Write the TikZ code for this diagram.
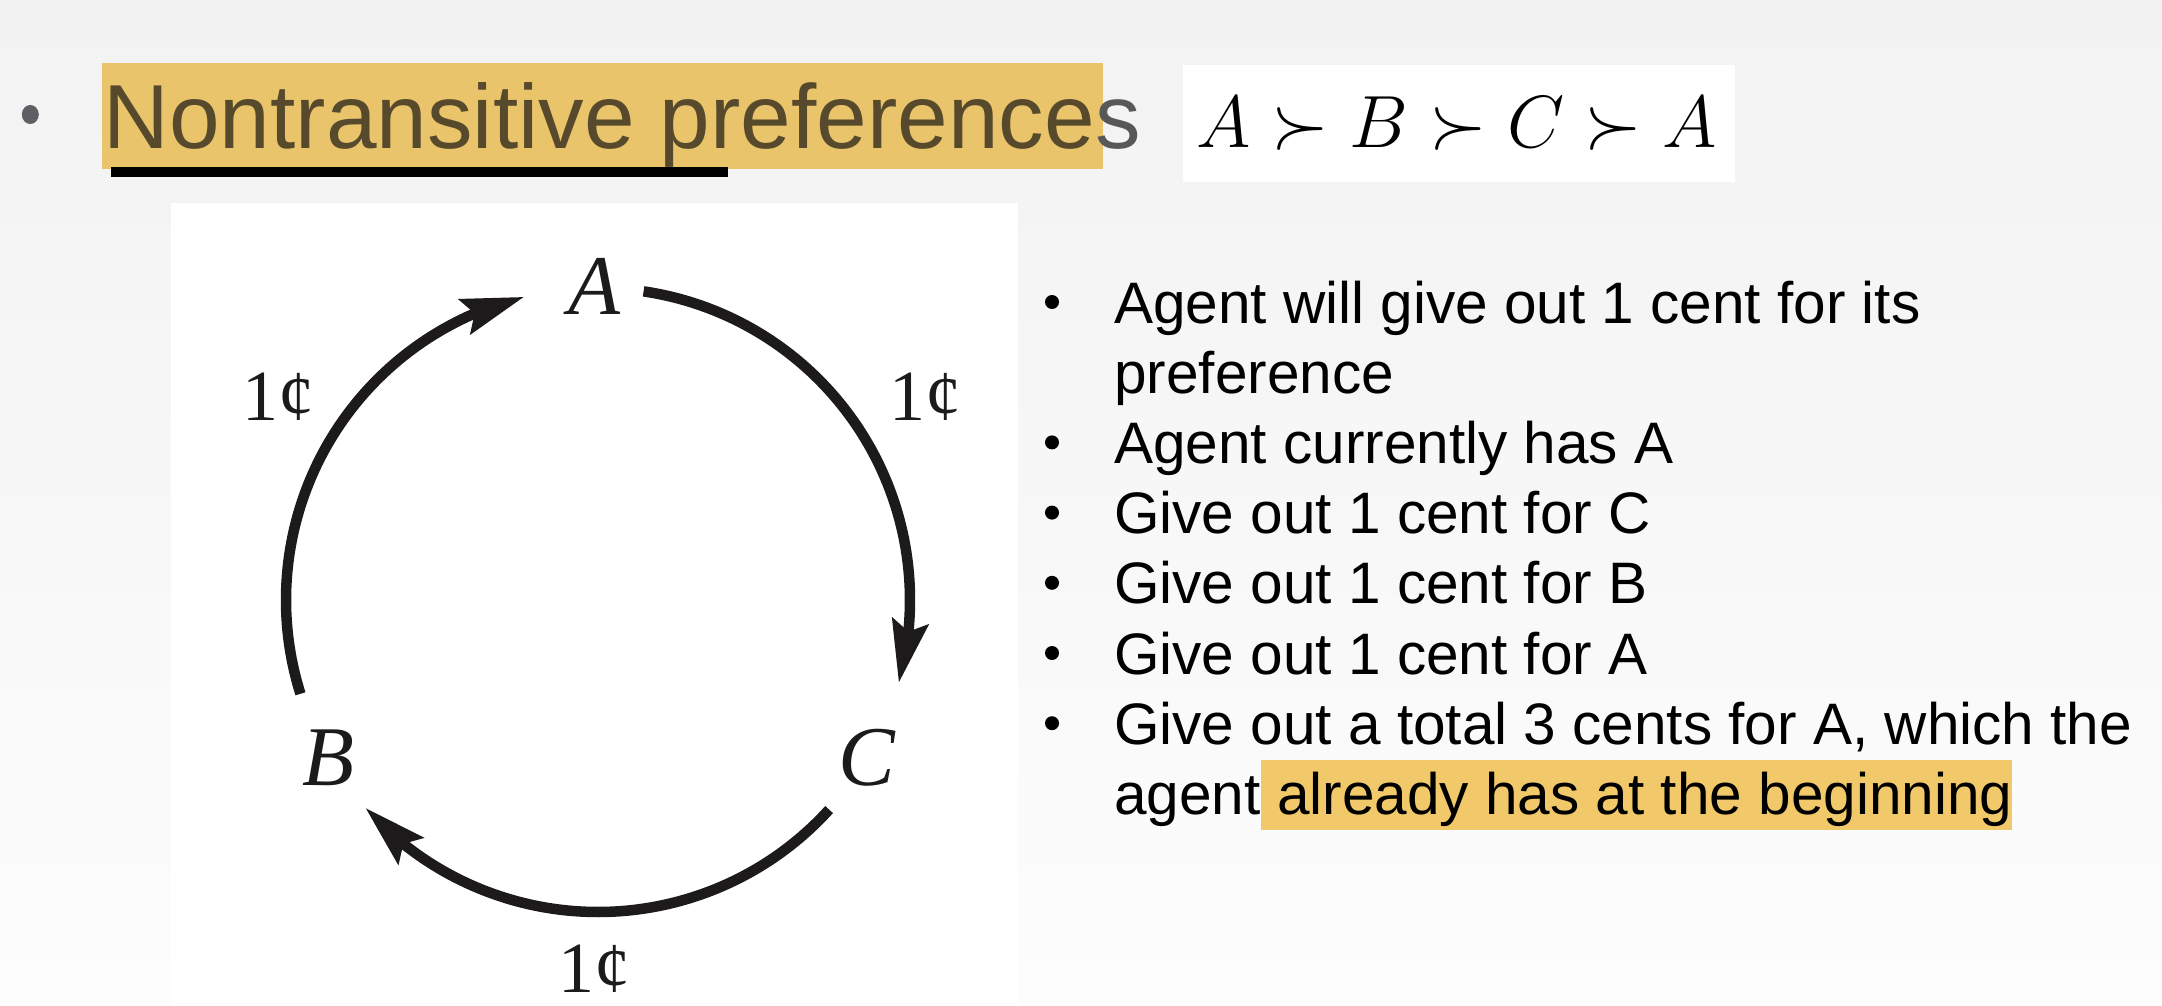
\RequirePackage{fix-cm}
\documentclass[tikz,border=0pt]{standalone}
\usepackage{fontspec}
\usetikzlibrary{arrows.meta,calc,bending}
\newfontfamily\slidesans{Liberation Sans}
\newfontfamily\slideserif{Liberation Serif}

\definecolor{bgtop}{HTML}{F2F2F2}
\definecolor{bgbottom}{HTML}{FDFDFD}
\definecolor{hltitle}{HTML}{E9C46A}
\definecolor{hltext}{HTML}{F1C96A}
\definecolor{titleink}{HTML}{574A2C}
\definecolor{titlegray}{HTML}{58585A}
\definecolor{titledot}{HTML}{5F5F63}
\definecolor{cycleink}{HTML}{1C1A1A}

\tikzset{
  titletext/.style={anchor=base west, inner sep=0pt,
    font=\slidesans\fontsize{91}{100}\selectfont},
  listtext/.style={anchor=base west, inner sep=0pt, text=black,
    font=\slidesans\fontsize{58.5}{64}\selectfont},
  statelabel/.style={anchor=base, inner sep=0pt, text=cycleink,
    font=\slideserif\itshape\fontsize{85}{90}\selectfont},
  costlabel/.style={anchor=base, inner sep=0pt, text=cycleink,
    font=\slideserif\fontsize{72}{80}\selectfont},
  cyclearrow/.style={line width=10.5pt, draw=cycleink,
    -{Stealth[length=62pt, width=36pt, inset=10pt, flex]}},
  listdot/.style={fill=black},
}

\begin{document}
\begin{tikzpicture}[x=1pt, y=1pt]
  \useasboundingbox (0,0) rectangle (2162,-1006);
  \shade[top color=bgtop, bottom color=bgbottom] (0,0) rectangle (2162,-1006);

  % heading
  \fill[titledot] (30.3,-114.5) ellipse[x radius=8.5, y radius=9.5];
  \fill[hltitle] (102,-63) rectangle (1103,-169);
  \node[titletext, text=titleink] (title) at (103.5,-148.7) {Nontransitive preference};
  \node[titletext, text=titlegray] (titleend) at (title.base east) {s};
  \fill[black] (110.7,-167) rectangle (728,-177);

  % preference relation
  \fill[white] (1183,-65) rectangle (1735,-182);
  \node[anchor=base, inner sep=0pt, font=\fontsize{74}{80}\selectfont] (rel)
    at (1457,-147.5) {$A \succ B \succ C \succ A$};

  % cycle of trades
  \fill[white] (171,-203) rectangle (1018,-1006);
  \coordinate (o) at (598,-600);
  \node[statelabel] (A) at (594,-314) {A};
  \node[statelabel] (B) at (328,-785) {B};
  \node[statelabel] (C) at (867,-785) {C};
  \node[costlabel] (costBA) at (278,-420) {1¢};
  \node[costlabel] (costAC) at (925,-420) {1¢};
  \node[costlabel] (costCB) at (594,-992) {1¢};

  \coordinate (A-out) at ($(o)+(81.6:312)$);
  \coordinate (C-out) at ($(o)+(-42.2:312)$);
  \coordinate (B-out) at ($(o)+(197.5:312)$);
  \draw[cyclearrow] (A-out) arc[start angle=81.6, end angle=-15.4, radius=312];
  \draw[cyclearrow] (C-out) arc[start angle=-42.2, end angle=-138.2, radius=312];
  \draw[cyclearrow] (B-out) arc[start angle=197.5, end angle=103.7, radius=312];

  % explanation list
  \node[listtext] (l1) at (1114,-323) {Agent will give out 1 cent for its};
  \node[listtext] (l2) at (1114,-393.2) {preference};
  \node[listtext] (l3) at (1114,-463.4) {Agent currently has A};
  \node[listtext] (l4) at (1114,-533.6) {Give out 1 cent for C};
  \node[listtext] (l5) at (1114,-603.8) {Give out 1 cent for B};
  \node[listtext] (l6) at (1114,-674) {Give out 1 cent for A};
  \node[listtext] (l7) at (1114,-744.2) {Give out a total 3 cents for A, which the};
  \node[listtext] (l8) at (1114,-814.4) {agent};
  \node[listtext, fill=hltext, text height=54pt, text depth=16pt]
    (l8hl) at (l8.base east) {\hspace{0.278em}already has at the beginning\hspace{2pt}};

  \foreach \y in {302,442.4,512.6,582.8,653,723.2}
    \fill[listdot] (1052,-\y) circle[radius=7];
\end{tikzpicture}
\end{document}
